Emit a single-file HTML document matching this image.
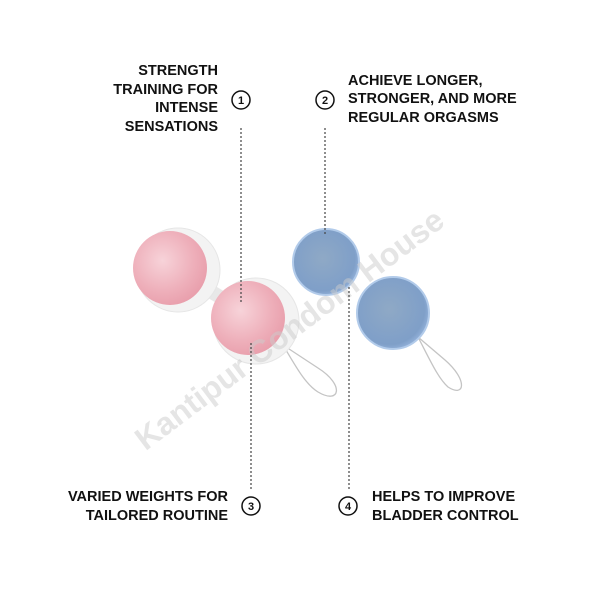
<!DOCTYPE html>
<html><head><style>
body{margin:0;width:600px;height:600px;background:#fff;overflow:hidden;font-family:"Liberation Sans",sans-serif}
</style></head><body>
<svg width="600" height="600" xmlns="http://www.w3.org/2000/svg">
<defs>
<radialGradient id="pk" cx="0.4" cy="0.4" r="0.7"><stop offset="0" stop-color="#f7d3d9"/><stop offset="0.6" stop-color="#eeafba"/><stop offset="1" stop-color="#e79aa8"/></radialGradient>
<radialGradient id="bl" cx="0.45" cy="0.45" r="0.65"><stop offset="0" stop-color="#8fa9c6"/><stop offset="0.75" stop-color="#7f9fc8"/><stop offset="1" stop-color="#a7c3ea"/></radialGradient>
</defs>
<g font-weight="bold" font-size="14.5" fill="#111">
<text text-anchor="end" x="218" y="75">STRENGTH</text>
<text text-anchor="end" x="218" y="94">TRAINING FOR</text>
<text text-anchor="end" x="218" y="112">INTENSE</text>
<text text-anchor="end" x="218" y="131">SENSATIONS</text>
<text x="348" y="85">ACHIEVE LONGER,</text>
<text x="348" y="103">STRONGER, AND MORE</text>
<text x="348" y="122">REGULAR ORGASMS</text>
<text text-anchor="end" x="228" y="501">VARIED WEIGHTS FOR</text>
<text text-anchor="end" x="228" y="520">TAILORED ROUTINE</text>
<text x="372" y="501">HELPS TO IMPROVE</text>
<text x="372" y="520">BLADDER CONTROL</text>
</g>
<g fill="none" stroke="#111" stroke-width="1.5">
<circle cx="241" cy="100" r="9"/><circle cx="325" cy="100" r="9"/>
<circle cx="251" cy="506" r="9"/><circle cx="348" cy="506" r="9"/>
</g>
<g font-weight="bold" font-size="11" text-anchor="middle" fill="#111">
<text x="241" y="104">1</text><text x="325" y="104">2</text><text x="251" y="510">3</text><text x="348" y="510">4</text>
</g>
<line x1="200" y1="285" x2="225" y2="300" stroke="#e8e8e8" stroke-width="14"/>
<circle cx="178" cy="270" r="42" fill="#f3f3f3" stroke="#e6e6e6"/>
<circle cx="170" cy="268" r="37" fill="url(#pk)"/>
<g fill="none" stroke="#c4c4c4" stroke-width="1.3">
<path d="M283 345 L318 368 C345 385 340 405 318 392 C305 384 295 365 283 345"/>
<path d="M418 337 L445 360 C468 380 465 398 448 387 C438 378 430 360 418 337"/>
</g>
<circle cx="256" cy="321" r="43" fill="#f3f3f3" stroke="#e6e6e6"/>
<circle cx="248" cy="318" r="37" fill="url(#pk)"/>
<circle cx="326" cy="262" r="33" fill="url(#bl)" stroke="#b2cbea" stroke-width="2"/>
<circle cx="393" cy="313" r="36" fill="url(#bl)" stroke="#b2cbea" stroke-width="2"/>
<text x="290" y="340" font-size="32" font-weight="bold" fill="#ccc" fill-opacity="0.5" text-anchor="middle" transform="rotate(-37 290 330)">Kantipur Condom House</text>
<g stroke="#444" stroke-width="1.2" stroke-dasharray="2,2">
<line x1="241" y1="128" x2="241" y2="302"/>
<line x1="251" y1="343" x2="251" y2="490"/>
<line x1="325" y1="128" x2="325" y2="236"/>
<line x1="349" y1="287" x2="349" y2="490"/>
</g>
</svg>
</body></html>
